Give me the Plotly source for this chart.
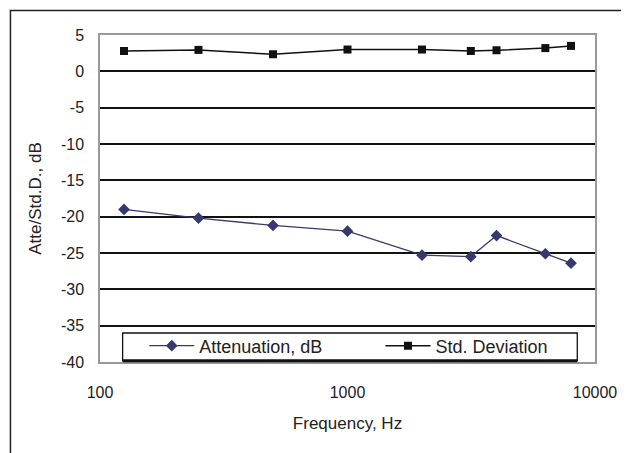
import plotly.graph_objects as go

freq = [125, 250, 500, 1000, 2000, 3150, 4000, 6300, 8000]
attenuation = [-19.0, -20.2, -21.2, -22.0, -25.3, -25.5, -22.6, -25.1, -26.4]
std_dev = [2.8, 2.95, 2.35, 3.0, 3.0, 2.8, 2.9, 3.2, 3.5]
x_ticks = [100, 1000, 10000]
y_ticks = [5, 0, -5, -10, -15, -20, -25, -30, -35, -40]

font = "Liberation Sans, Arial, sans-serif"

fig = go.Figure()
fig.add_trace(go.Scatter(
    x=freq, y=attenuation, name="Attenuation, dB", mode="lines+markers",
    line=dict(color="#38386e", width=1.3),
    marker=dict(symbol="diamond", size=9, color="#38386e"),
    legend="legend",
))
fig.add_trace(go.Scatter(
    x=freq, y=std_dev, name="Std. Deviation", mode="lines+markers",
    line=dict(color="#111111", width=1.5),
    marker=dict(symbol="square", size=8, color="#111111"),
    legend="legend2",
))

# page body has an 8px margin; figure sized so the plot lands where the reference has it
W, H = 621, 445
L, T = 92, 27
R = W - (603 - 8)
B = H - (362 - 8)
pw, ph = W - L - R, H - T - B

# outer frame of the chart
fig.add_shape(type="rect", xref="paper", yref="paper",
              x0=(1 - L) / pw, x1=(W + 20 - L) / pw,
              y0=-(B + 20) / ph, y1=(H - B - 2.5) / ph,
              line=dict(color="#222222", width=1.5), fillcolor="rgba(0,0,0,0)",
              layer="below")

# legend frame
lx0, lx1 = (115 - L) / pw, (577 - L) / pw
ly0, ly1 = 0.004, (354 - 325) / ph
fig.add_shape(type="rect", xref="paper", yref="paper",
              x0=lx0, x1=lx1, y0=ly0, y1=ly1,
              line=dict(color="#111111", width=1.3), fillcolor="white",
              layer="above")
fig.add_shape(type="line", xref="paper", yref="paper",
              x0=lx0, x1=lx1, y0=ly0, y1=ly0,
              line=dict(color="#111111", width=3), layer="above")

leg_common = dict(
    orientation="h", xanchor="left",
    y=(354 - 338) / ph, yanchor="middle",
    bgcolor="rgba(0,0,0,0)", borderwidth=0, itemwidth=45,
    font=dict(family=font, size=18, color="#222222"),
)

fig.update_layout(
    width=W, height=H,
    margin=dict(l=L, r=R, t=T, b=B),
    paper_bgcolor="white", plot_bgcolor="white",
    font=dict(family=font, size=17, color="#222222"),
    showlegend=True,
    legend=dict(x=(137 - L) / pw, **leg_common),
    legend2=dict(x=(377 - L) / pw, **leg_common),
    xaxis=dict(
        type="log", range=[2, 4], tickvals=x_ticks,
        ticktext=[str(v) for v in x_ticks],
        showgrid=False, showline=True, linecolor="#999999", linewidth=1.5,
        mirror=True, ticks="", ticklabelstandoff=15,
        title=dict(text="Frequency, Hz", standoff=17, font=dict(size=17)),
        tickfont=dict(size=16),
    ),
    yaxis=dict(
        range=[-40, 5], tickvals=y_ticks,
        ticktext=[str(v) for v in y_ticks], showgrid=True,
        gridcolor="#111111", gridwidth=1.5, zeroline=True,
        zerolinecolor="#111111", zerolinewidth=1.5,
        showline=True, linecolor="#999999", linewidth=1.5, mirror=True,
        ticks="", tickfont=dict(size=16), ticklabelstandoff=11,
        title=dict(text="Atte/Std.D., dB", standoff=15, font=dict(size=17)),
    ),
)

fig.write_html("out.html")
